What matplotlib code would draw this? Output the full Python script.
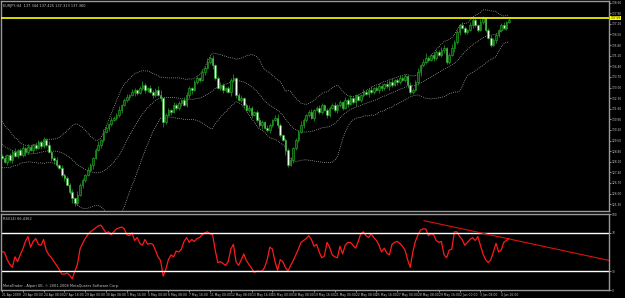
import numpy as np
import pandas as pd
import matplotlib
matplotlib.use("Agg")
import matplotlib.pyplot as plt
import matplotlib.transforms as mtransforms

# EURJPY H4 close prices (one per bar)
closes = [
    128.35, 128.09, 128.55, 128.22, 128.75, 128.48, 128.88, 128.55, 129.01, 128.75, 129.08, 128.88, 129.21, 129.01,
    129.41, 129.14, 129.54, 129.21, 128.75, 128.35, 128.22, 127.89, 127.69, 127.23, 127.03, 126.57, 126.11, 125.71,
    125.38, 125.91, 126.57, 126.90, 127.23, 127.56, 127.89, 128.35, 128.88, 129.21, 129.54, 130.07, 130.33, 130.60,
    130.86, 130.99, 131.19, 131.52, 131.85, 132.18, 132.38, 132.51, 132.71, 132.84, 132.64, 132.97, 133.17, 132.84,
    132.97, 132.71, 132.51, 132.84, 132.51, 132.31, 130.73, 131.19, 131.52, 131.39, 131.85, 131.65, 131.98, 132.18,
    131.85, 132.51, 132.97, 132.84, 133.37, 133.63, 133.50, 134.03, 134.29, 134.69, 134.95, 134.49, 133.63, 132.97,
    133.17, 132.84, 132.97, 132.71, 133.50, 133.63, 132.51, 132.18, 132.31, 131.85, 131.52, 131.65, 131.19, 131.39,
    130.86, 130.53, 130.73, 130.33, 130.20, 130.53, 130.86, 130.99, 130.53, 129.87, 129.54, 128.88, 127.89, 128.22,
    129.01, 129.54, 130.07, 130.53, 130.86, 131.19, 131.39, 130.99, 131.52, 131.65, 131.39, 131.85, 131.52, 131.19,
    131.65, 131.85, 131.52, 131.85, 132.05, 131.65, 132.18, 131.92, 132.31, 132.05, 132.44, 132.18, 132.51, 132.71,
    132.58, 132.84, 132.71, 132.97, 132.84, 133.10, 132.97, 133.24, 133.10, 133.37, 133.17, 133.50, 133.37, 133.63,
    133.50, 133.76, 133.17, 132.71, 132.84, 133.37, 134.03, 134.49, 134.69, 134.95, 134.82, 135.15, 134.95, 135.35,
    135.15, 135.48, 135.61, 134.69, 135.15, 135.61, 136.01, 136.67, 137.13, 136.93, 136.67, 136.80, 137.13, 137.46,
    137.13, 136.80, 137.33, 137.59, 136.80, 136.27, 135.81, 136.14, 136.47, 136.80, 137.13, 136.93, 137.33, 137.46,
]
first_open = 128.50

# wick lengths above / below the body
up_wick = [
    0.12, 0.20, 0.08, 0.15, 0.10, 0.25, 0.06, 0.14, 0.18, 0.09, 0.22, 0.11, 0.07, 0.16,
    0.13, 0.05, 0.19, 0.10, 0.24, 0.08, 0.12, 0.17, 0.06, 0.21, 0.09, 0.14, 0.11, 0.18,
    0.07, 0.26, 0.10, 0.13, 0.08, 0.20, 0.15, 0.06, 0.12, 0.23, 0.09, 0.16, 0.11, 0.07,
    0.19, 0.14, 0.10, 0.25, 0.08, 0.13, 0.17, 0.06, 0.21, 0.12, 0.09, 0.15, 0.28, 0.10,
    0.07, 0.18, 0.13, 0.11, 0.24, 0.30, 0.09, 0.16, 0.12, 0.08, 0.20, 0.14, 0.10, 0.06,
    0.17, 0.22, 0.11, 0.09, 0.15, 0.13, 0.07, 0.19, 0.10, 0.26, 0.12, 0.18, 0.08, 0.14,
    0.21, 0.10, 0.06, 0.16, 0.13, 0.24, 0.09, 0.11, 0.18, 0.07, 0.15, 0.20, 0.12, 0.08,
    0.14, 0.22, 0.10, 0.06, 0.17, 0.13, 0.09, 0.19, 0.25, 0.11, 0.07, 0.16, 0.12, 0.20,
    0.08, 0.14, 0.10, 0.23, 0.15, 0.06, 0.12, 0.18, 0.09, 0.13, 0.21, 0.11, 0.07, 0.16,
    0.10, 0.14, 0.19, 0.08, 0.12, 0.06, 0.17, 0.11, 0.22, 0.09, 0.13, 0.15, 0.07, 0.18,
    0.10, 0.12, 0.24, 0.08, 0.14, 0.20, 0.11, 0.06, 0.16, 0.13, 0.27, 0.09, 0.12, 0.18,
    0.10, 0.15, 0.07, 0.21, 0.13, 0.11, 0.25, 0.08, 0.16, 0.30, 0.12, 0.09, 0.19, 0.14,
    0.10, 0.22, 0.17, 0.08, 0.13, 0.26, 0.11, 0.15, 0.09, 0.20, 0.12, 0.07, 0.18, 0.10,
    0.14, 0.08, 0.16, 0.11, 0.09, 0.12, 0.20, 0.10, 0.15, 0.07, 0.13, 0.18, 0.09, 0.11,
]
down_wick = [
    0.10, 0.07, 0.18, 0.12, 0.22, 0.09, 0.14, 0.06, 0.16, 0.25, 0.11, 0.08, 0.19, 0.13,
    0.07, 0.21, 0.10, 0.15, 0.09, 0.17, 0.28, 0.12, 0.08, 0.14, 0.20, 0.10, 0.16, 0.30,
    0.22, 0.11, 0.09, 0.18, 0.13, 0.07, 0.15, 0.24, 0.10, 0.06, 0.17, 0.12, 0.08, 0.20,
    0.14, 0.09, 0.16, 0.11, 0.23, 0.07, 0.13, 0.18, 0.10, 0.26, 0.12, 0.08, 0.15, 0.19,
    0.11, 0.06, 0.21, 0.14, 0.09, 0.17, 0.35, 0.12, 0.08, 0.20, 0.10, 0.15, 0.13, 0.22,
    0.07, 0.11, 0.18, 0.24, 0.09, 0.14, 0.12, 0.06, 0.19, 0.10, 0.16, 0.25, 0.13, 0.08,
    0.12, 0.20, 0.15, 0.09, 0.27, 0.11, 0.17, 0.07, 0.13, 0.22, 0.10, 0.14, 0.18, 0.08,
    0.16, 0.12, 0.25, 0.09, 0.11, 0.19, 0.14, 0.07, 0.21, 0.13, 0.10, 0.32, 0.15, 0.08,
    0.18, 0.11, 0.14, 0.09, 0.20, 0.12, 0.16, 0.07, 0.23, 0.10, 0.13, 0.17, 0.08, 0.19,
    0.12, 0.09, 0.15, 0.21, 0.11, 0.14, 0.07, 0.18, 0.10, 0.13, 0.24, 0.08, 0.16, 0.12,
    0.09, 0.20, 0.11, 0.15, 0.07, 0.17, 0.22, 0.13, 0.10, 0.26, 0.12, 0.08, 0.18, 0.14,
    0.09, 0.16, 0.21, 0.11, 0.13, 0.07, 0.19, 0.28, 0.10, 0.15, 0.12, 0.09, 0.17, 0.13,
    0.08, 0.14, 0.20, 0.11, 0.16, 0.09, 0.24, 0.12, 0.18, 0.07, 0.13, 0.15, 0.10, 0.19,
    0.11, 0.13, 0.08, 0.16, 0.12, 0.10, 0.14, 0.09, 0.17, 0.11, 0.13, 0.08, 0.12, 0.10,
]

# closes before the visible window (only feed the bands)
pre_closes = [130.60, 130.85, 130.40, 130.10, 130.35, 129.90, 129.60, 129.85, 129.40, 129.10,
              129.30, 128.90, 128.70, 128.95, 128.60, 128.40, 128.70, 128.30, 128.55, 128.50]

# RSI values
rsi = [
    50.5, 49.5, 42, 37, 34, 45, 40, 47, 53, 61, 66, 55, 61, 64, 58, 57, 63, 52, 47, 44,
    40, 36, 32, 27, 27, 28, 26, 22, 30, 37, 53, 59, 64, 68, 71, 73, 75, 77, 78, 74,
    70, 71, 68, 71, 74, 75, 76, 74, 68, 67, 70, 62, 65, 59, 57, 63, 58, 59, 58, 52,
    45, 41, 25, 32, 42, 47, 45, 51, 50, 53, 61, 65, 60, 63, 61, 64, 65, 68, 70, 71,
    69, 68, 52, 39, 40, 38, 36, 40, 53, 58, 40, 36, 42, 48, 41, 37, 33, 29, 30, 30,
    30, 34, 42, 55, 53, 40, 31, 42, 40, 34, 30, 36, 41, 47, 53, 60, 62, 64, 67, 63,
    56, 58, 50, 44, 46, 60, 55, 47, 45, 44, 56, 48, 57, 60, 60, 57, 54, 61, 69, 71,
    67, 65, 69, 65, 62, 57, 50, 54, 49, 47, 58, 60, 61, 59, 56, 52, 42, 34, 50, 61,
    68, 73, 74, 74, 67, 69, 68, 62, 60, 61, 47, 44, 52, 53, 71, 71, 66, 63, 57, 60,
    63, 65, 62, 66, 57, 48, 42, 39, 42, 50, 59, 50, 52, 60, 62, 64,
]
rsi_levels = [70, 30]
trend_bars = [162.3, 233.5]
trend_rsi = [82.6, 41.2]

hline_price = 137.59
price_ticks = [138.60 - 0.70 * k for k in range(20)]

date_labels = [
    "21 Apr 2009", "23 Apr 00:00", "24 Apr 08:00", "27 Apr 16:00", "29 Apr 00:00",
    "30 Apr 08:00", "1 May 16:00", "5 May 00:00", "6 May 08:00", "7 May 16:00",
    "11 May 00:00", "12 May 08:00", "13 May 16:00", "15 May 00:00", "18 May 08:00",
    "19 May 16:00", "21 May 00:00", "22 May 08:00", "25 May 16:00", "27 May 00:00",
    "28 May 08:00", "29 May 16:00", "2 Jun 00:00", "3 Jun 08:00", "4 Jun 16:00",
]
bars_per_label = 8

title_text = "EURJPY,H4  137.344 137.425 137.313 137.360"
rsi_text = "RSI(14) 66.4362"
footer_text = "MetaTrader - Alpari UK, \u00a9 2001-2008 MetaQuotes Software Corp."

# ---- prepare series
c = np.array(closes)
o = np.array([first_open] + closes[:-1])
hi = np.maximum(o, c) + np.array(up_wick)
lo = np.minimum(o, c) - np.array(down_wick)
x = np.arange(len(c))

full = pd.Series(pre_closes + closes)
mid = full.rolling(20).mean()
sd = full.rolling(20).std(ddof=0)
n_pre = len(pre_closes)
bb_mid = mid.values[n_pre:]
bb_up = (mid + 2 * sd).values[n_pre:]
bb_lo = (mid - 2 * sd).values[n_pre:]

W, H = 625, 298
axw = 608  # right price scale starts at x = 609 px
fig = plt.figure(figsize=(W / 100, H / 100), dpi=100, facecolor="black")
ax = fig.add_axes([1 / W, 1 - 211 / H, axw / W, 210 / H], facecolor="black")
ax2 = fig.add_axes([1 / W, 1 - 290 / H, axw / W, 76 / H], facecolor="black")

px_per_bar = 2.6
x0 = -1 / px_per_bar
for a in (ax, ax2):
    a.set_xlim(x0, x0 + axw / px_per_bar)
    for s in a.spines.values():
        s.set_color("#9a9a9a")
        s.set_linewidth(1.0)

grey = "#c8c8c8"
green = "#22a822"
fs = 2.5
fs_scale = 2.1

# candles
ax.vlines(x, lo, hi, color=green, linewidth=0.5, zorder=2)
bull = c >= o
body_bottom = np.minimum(o, c)
body_h = np.maximum(np.abs(c - o), 0.03)
ax.bar(x[bull], body_h[bull], bottom=body_bottom[bull], width=0.62,
       color="#0a3a0a", edgecolor=green, linewidth=0.45, zorder=3)
ax.bar(x[~bull], body_h[~bull], bottom=body_bottom[~bull], width=0.62,
       color="#f0fff0", edgecolor=green, linewidth=0.45, zorder=3)

# bollinger bands
for band in (bb_up, bb_mid, bb_lo):
    ax.plot(x, band, color="#bdbdbd", linewidth=0.55, linestyle=(0, (1, 1.6)), zorder=1)

ax.axhline(hline_price, color="#ffff00", linewidth=1.2, zorder=4)

ax.set_ylim(124.85, 138.71)
ax.yaxis.tick_right()
ax.set_yticks(price_ticks)
ax.set_yticklabels([f"{p:.2f}" for p in price_ticks])
ax.tick_params(axis="y", colors=grey, labelsize=fs_scale, length=1.5, width=0.5, pad=0.5)
ax.set_xticks([])

trans = mtransforms.blended_transform_factory(ax.transAxes, ax.transData)
ax.text(1.003, hline_price, f"{hline_price:.2f}", transform=trans, fontsize=fs_scale,
        color="black", va="center", ha="left",
        bbox=dict(boxstyle="square,pad=0.15", facecolor="#ffff00", edgecolor="none"), zorder=6,
        clip_on=False)
ax.text(0.004, 0.988, title_text, transform=ax.transAxes, fontsize=fs, color=grey,
        va="top", ha="left")

# RSI window
ax2.plot(x, rsi, color="#ff1a1a", linewidth=0.9)
for lv in rsi_levels:
    ax2.axhline(lv, color="white", linewidth=1.0)
ax2.plot(trend_bars, trend_rsi, color="#e01010", linewidth=0.8)
ax2.set_ylim(10.5, 89.5)
ax2.yaxis.tick_right()
ax2.set_yticks([89.5, 70, 30, 10.5])
ax2.set_yticklabels(["100", "70", "30", "0"])
ax2.tick_params(axis="y", colors=grey, labelsize=fs_scale, length=1.5, width=0.5, pad=0.5)

ticks = [i * bars_per_label for i in range(len(date_labels))]
ax2.set_xticks(ticks)
ax2.set_xticklabels(date_labels, ha="left")
ax2.tick_params(axis="x", colors=grey, labelsize=2.2, length=1.5, width=0.5, pad=0.5)

ax2.text(0.004, 0.96, rsi_text, transform=ax2.transAxes, fontsize=fs, color=grey,
         va="top", ha="left")
ax2.text(0.004, 0.02, footer_text, transform=ax2.transAxes, fontsize=fs, color=grey,
         va="bottom", ha="left")

fig.savefig("out.png", dpi=100, facecolor="black")
